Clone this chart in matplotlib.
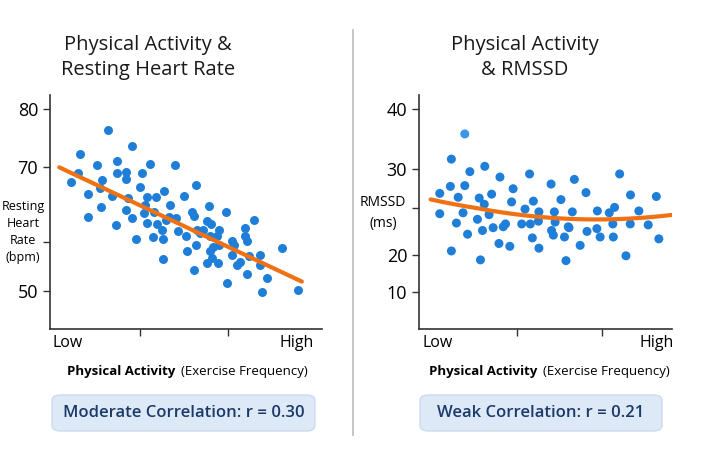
import numpy as np
import matplotlib
matplotlib.use("Agg")
import matplotlib.pyplot as plt
from matplotlib.patches import FancyBboxPatch

plt.rcParams['font.family'] = ['Open Sans', 'DejaVu Sans']

# Left panel: activity (0-10) vs resting HR
hr_x = [0.76,1.04,1.10,1.39,1.41,1.74,1.84,1.87,1.90,2.15,2.27,2.43,2.48,2.48,2.80,2.80,2.80,2.88,3.01,3.01,
        3.17,3.31,3.37,3.44,3.50,3.56,3.58,3.68,3.80,3.83,3.90,3.93,4.11,4.15,4.15,4.20,4.27,4.36,4.42,4.60,
        4.64,4.69,4.91,5.01,5.03,5.21,5.28,5.31,5.37,5.37,5.40,5.52,5.62,5.77,5.79,5.84,5.87,5.89,5.91,5.95,
        6.01,6.13,6.16,6.20,6.23,6.48,6.50,6.69,6.69,6.77,6.87,6.97,7.18,7.18,7.24,7.24,7.30,7.51,7.71,7.73,
        7.79,7.98,8.53,9.12]
hr_y = [68.0,69.1,72.1,66.4,63.3,70.3,67.1,64.6,68.2,76.4,66.1,62.2,71.0,69.1,69.3,68.3,64.2,65.8,73.6,63.1,
        60.4,67.3,69.2,63.8,64.9,65.9,62.5,70.5,60.6,64.0,66.0,62.4,61.6,60.4,56.5,66.8,62.9,63.3,64.9,70.3,
        63.2,61.4,66.1,60.8,58.2,64.0,63.4,54.2,67.6,59.3,61.6,61.1,61.6,55.6,62.7,64.7,60.7,58.0,62.4,56.6,
        58.9,60.7,55.6,61.6,59.3,64.0,51.6,60.1,57.2,59.3,55.3,55.9,60.7,61.8,60.1,53.4,57.0,62.9,55.3,57.3,
        49.7,52.6,58.8,50.3]
hr_trend_x = [0.34, 9.26]
hr_trend_y = [69.9, 51.9]

# Right panel: activity vs RMSSD
rm_x = [0.82,0.82,1.24,1.28,1.28,1.48,1.55,1.74,1.81,1.81,1.92,2.01,2.31,2.38,2.43,2.51,2.58,2.60,2.77,2.87,
        2.93,3.16,3.20,3.33,3.42,3.59,3.66,3.72,4.06,4.19,4.37,4.40,4.48,4.52,4.72,4.74,4.74,5.22,5.24,5.31,
        5.35,5.38,5.61,5.75,5.81,5.90,5.93,6.06,6.14,6.37,6.60,6.64,7.03,7.05,7.16,7.52,7.66,7.68,7.73,7.93,
        8.18,8.35,8.36,8.69,9.06,9.38,9.48]
rm_y = [26.9,24.4,27.8,31.7,20.4,23.4,26.4,24.5,27.9,35.9,22.2,29.7,23.8,26.3,18.6,22.6,25.5,30.5,24.3,26.8,
        22.9,21.2,29.0,23.0,23.3,20.9,25.8,27.5,23.3,24.9,29.4,23.3,21.8,25.9,23.6,20.7,24.6,28.1,22.6,22.1,
        24.6,23.5,26.1,21.9,18.4,23.0,22.9,24.6,28.7,21.0,27.0,22.5,22.8,24.7,21.9,24.5,23.3,21.9,25.1,29.4,
        19.7,23.3,26.7,24.7,23.2,26.5,21.7]
rm_trend_x = [0.46, 3.88, 7.23, 9.97]
rm_trend_y = [26.1, 24.4, 23.7, 24.3]

hr_ticks = [50, 60, 70, 80]
rm_ticks = [10, 20, 25, 30, 40]

# axis scales (tick spacing in the reference is uneven)
hr_vals = np.array([40, 50, 60, 70, 80, 90])
hr_pos = -np.array([751, 603, 455, 230, 57, -116], float)
rm_vals = np.array([0, 10, 20, 25, 30, 40, 50])
rm_pos = -np.array([714, 603, 492, 353, 237, 58, -121], float)

blue = '#1f7fd8'
orange = '#f07014'

fig = plt.figure(figsize=(7.11, 4.74), dpi=100)
W, H = 711, 474

def ax_at(x0, x1, y0, y1):
    return fig.add_axes([x0 / W, 1 - y1 / H, (x1 - x0) / W, (y1 - y0) / H])

def style(ax, vals, pos, ticks, labels, xticks):
    ax.set_yscale('function', functions=(lambda v: np.interp(v, vals, pos),
                                         lambda p: np.interp(p, pos, vals)))
    for s in ['top', 'right']:
        ax.spines[s].set_visible(False)
    for s in ['left', 'bottom']:
        ax.spines[s].set_color('#333333')
        ax.spines[s].set_linewidth(1.2)
    ax.set_yticks(ticks)
    ax.set_yticklabels(labels, fontsize=13)
    ax.set_xticks(xticks)
    ax.set_xticklabels([])
    ax.tick_params(length=5, color='#333333', width=1)
    ax.set_xlim(0, 10)

# left
ax1 = ax_at(50, 322, 95, 329)
style(ax1, hr_vals, hr_pos, hr_ticks, ['50', '', '70', '80'], [3.31, 6.56])
ax1.set_ylim(42.3, 82.4)
ax1.scatter(hr_x, hr_y, s=42, color=blue, zorder=3, linewidths=0)
ax1.plot(hr_trend_x, hr_trend_y, color=orange, lw=3, zorder=4, solid_capstyle='round')

# right
ax2 = ax_at(419, 672, 95, 329)
style(ax2, rm_vals, rm_pos, rm_ticks, ['10', '20', '', '30', '40'], [3.88, 7.23])
ax2.set_ylim(-0.3, 42.4)
cols = [blue] * len(rm_x)
cols[rm_y.index(35.9)] = '#3d95e8'
ax2.scatter(rm_x, rm_y, s=42, color=cols, zorder=3, linewidths=0)
c = np.polyfit(rm_trend_x, rm_trend_y, 2)
xs = np.linspace(rm_trend_x[0], rm_trend_x[-1], 100)
ax2.plot(xs, np.polyval(c, xs), color=orange, lw=3, zorder=4, solid_capstyle='round')

def t(x, y, s, **kw):
    fig.text(x / W, 1 - y / H, s, **kw)

for x, l1, l2 in [(148, 'Physical Activity &', 'Resting Heart Rate'), (525, 'Physical Activity', '& RMSSD')]:
    t(x, 45, l1, fontsize=14.5, ha='center', va='center', color='#1a1a1a', fontweight='medium')
    t(x, 70, l2, fontsize=14.5, ha='center', va='center', color='#1a1a1a', fontweight='medium')

t(23, 232, 'Resting\nHeart\nRate\n(bpm)', fontsize=9, ha='center', va='center', linespacing=1.4)
t(383, 213, 'RMSSD\n(ms)', fontsize=10, ha='center', va='center', linespacing=1.5)

t(68, 343, 'Low', fontsize=11.5, ha='center', va='center')
t(297, 343, 'High', fontsize=11.5, ha='center', va='center')
t(438, 343, 'Low', fontsize=11.5, ha='center', va='center')
t(657, 343, 'High', fontsize=11.5, ha='center', va='center')

for mid in [179, 541]:
    t(mid, 371, 'Physical Activity ', fontsize=9.5, ha='right', va='center', fontweight='bold')
    t(mid + 2, 371, '(Exercise Frequency)', fontsize=9.5, ha='left', va='center')

for x0, x1, label in [(52, 315, 'Moderate Correlation: r = 0.30'), (420, 662, 'Weak Correlation: r = 0.21')]:
    box = FancyBboxPatch((x0 / W, 1 - 431 / H), (x1 - x0) / W, 36 / H,
                         boxstyle='round,pad=0,rounding_size=0.012', transform=fig.transFigure,
                         facecolor='#dde9f6', edgecolor='#c9dbef', lw=1)
    fig.patches.append(box)
    t((x0 + x1) / 2, 413, label, fontsize=12, ha='center', va='center', color='#1b3a6a', fontweight='semibold')

fig.add_artist(plt.Line2D([353 / W, 353 / W], [1 - 30 / H, 1 - 435 / H], color='#bbbbbb', lw=1.2,
                          transform=fig.transFigure))

fig.savefig('out.png', dpi=100)
